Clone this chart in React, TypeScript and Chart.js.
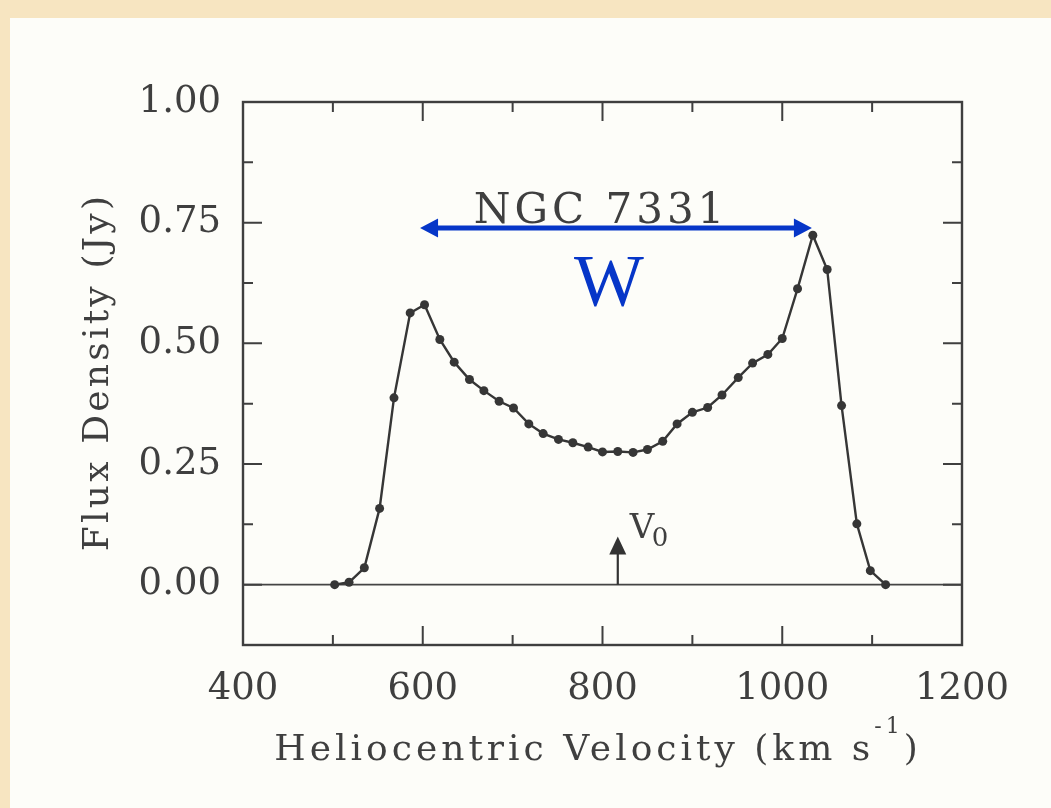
import { useEffect, useRef } from "react";
import { Chart, registerables } from "chart.js";

Chart.register(...registerables);

// HI line profile of NGC 7331: channel velocities (km/s) and flux density (Jy)
const velocities = [
  502, 518, 535, 552, 568, 586, 602, 619, 635, 652,
  668, 685, 701, 718, 734, 751, 767, 784, 800, 817,
  834, 850, 867, 883, 900, 917, 933, 951, 967, 984,
  1000, 1017, 1034, 1050, 1066, 1083, 1098, 1115,
];
const fluxDensity = [
  0.0, 0.005, 0.035, 0.158, 0.387, 0.563, 0.58, 0.508, 0.461, 0.425,
  0.402, 0.38, 0.366, 0.333, 0.313, 0.301, 0.294, 0.285, 0.275, 0.276,
  0.274, 0.28, 0.297, 0.333, 0.357, 0.367, 0.393, 0.429, 0.459, 0.477,
  0.51, 0.613, 0.724, 0.653, 0.371, 0.126, 0.029, 0.0,
];

// Axis ticks
const xMajorTicks = [400, 600, 800, 1000, 1200];
const xMinorTicks = [500, 700, 900, 1100];
const yMajorTicks = [0, 0.25, 0.5, 0.75, 1.0];
const yMinorTicks = [0.125, 0.375, 0.625, 0.875];
const xRange = [400, 1200];
const yRange = [-0.125, 1.0];

// Line width W between the two horns, and the systemic velocity marker
const widthArrowVelocities = [597, 1033];
const widthArrowLevel = [0.739];
const systemicVelocity = [817];
const systemicArrowTip = [0.1];

const titleText = "NGC 7331";
const widthLabel = "W";
const xTitle = "Heliocentric Velocity (km s";
const xTitleSup = "-1";
const yTitle = "Flux Density (Jy)";

const FONT = "'DejaVu Serif', serif";
const INK = "#3f3f3f";
const BLUE = "#0636c8";

function drawDecor(chart: any) {
  const ctx: CanvasRenderingContext2D = chart.ctx;
  const xs = chart.scales.x;
  const ys = chart.scales.y;
  const { left, right, top, bottom } = chart.chartArea;

  ctx.save();
  // frame
  ctx.strokeStyle = "#3f3f3f";
  ctx.lineWidth = 2.4;
  ctx.strokeRect(left, top, right - left, bottom - top);

  // inward tick marks on all four sides
  ctx.lineWidth = 2;
  ctx.beginPath();
  const xTick = (v: number, len: number) => {
    const px = xs.getPixelForValue(v);
    ctx.moveTo(px, bottom);
    ctx.lineTo(px, bottom - len);
    ctx.moveTo(px, top);
    ctx.lineTo(px, top + len);
  };
  const yTick = (v: number, len: number) => {
    const py = ys.getPixelForValue(v);
    ctx.moveTo(left, py);
    ctx.lineTo(left + len, py);
    ctx.moveTo(right, py);
    ctx.lineTo(right - len, py);
  };
  xMajorTicks.filter((v) => v > xRange[0] && v < xRange[1]).forEach((v) => xTick(v, 19));
  xMinorTicks.forEach((v) => xTick(v, 10));
  yMajorTicks.filter((v) => v > yRange[0] && v < yRange[1]).forEach((v) => yTick(v, 19));
  yMinorTicks.forEach((v) => yTick(v, 10));
  ctx.stroke();

  // W double arrow
  const ax1 = xs.getPixelForValue(widthArrowVelocities[0]);
  const ax2 = xs.getPixelForValue(widthArrowVelocities[1]);
  const ay = ys.getPixelForValue(widthArrowLevel[0]);
  const head = 18;
  const half = 9.5;
  ctx.strokeStyle = BLUE;
  ctx.fillStyle = BLUE;
  ctx.lineWidth = 5;
  ctx.beginPath();
  ctx.moveTo(ax1 + head - 2, ay);
  ctx.lineTo(ax2 - head + 2, ay);
  ctx.stroke();
  ctx.beginPath();
  ctx.moveTo(ax1, ay);
  ctx.lineTo(ax1 + head, ay - half);
  ctx.lineTo(ax1 + head, ay + half);
  ctx.closePath();
  ctx.moveTo(ax2, ay);
  ctx.lineTo(ax2 - head, ay - half);
  ctx.lineTo(ax2 - head, ay + half);
  ctx.closePath();
  ctx.fill();

  // W label
  ctx.font = `74px 'Liberation Serif', serif`;
  ctx.textAlign = "center";
  ctx.textBaseline = "alphabetic";
  ctx.fillText(widthLabel, 609, 306);

  // systemic velocity arrow
  const vx = xs.getPixelForValue(systemicVelocity[0]);
  const vy0 = ys.getPixelForValue(0);
  const vyTip = ys.getPixelForValue(systemicArrowTip[0]);
  ctx.strokeStyle = "#333";
  ctx.fillStyle = "#333";
  ctx.lineWidth = 2.2;
  ctx.beginPath();
  ctx.moveTo(vx, vy0);
  ctx.lineTo(vx, vyTip + 14);
  ctx.stroke();
  ctx.beginPath();
  ctx.moveTo(vx, vyTip);
  ctx.lineTo(vx - 8.5, vyTip + 18);
  ctx.lineTo(vx + 8.5, vyTip + 18);
  ctx.closePath();
  ctx.fill();

  ctx.fillStyle = INK;
  ctx.textAlign = "left";
  ctx.font = `34px ${FONT}`;
  ctx.fillText("V", vx + 12, vyTip + 2);
  ctx.font = `26px ${FONT}`;
  ctx.fillText("0", vx + 34, vyTip + 10);

  // object name
  (ctx as any).letterSpacing = "4px";
  ctx.font = `42px ${FONT}`;
  ctx.textAlign = "center";
  ctx.fillText(titleText, 601, 223);

  // x axis title with superscript
  (ctx as any).letterSpacing = "4px";
  ctx.font = `36px ${FONT}`;
  const mainW = ctx.measureText(xTitle).width;
  ctx.font = `22px ${FONT}`;
  const supW = ctx.measureText(xTitleSup).width;
  ctx.font = `36px ${FONT}`;
  const closeW = ctx.measureText(")").width;
  const total = mainW + supW + closeW;
  let tx = 598 - total / 2;
  ctx.textAlign = "left";
  ctx.fillText(xTitle, tx, 760);
  tx += mainW;
  ctx.font = `22px ${FONT}`;
  ctx.fillText(xTitleSup, tx, 733);
  tx += supW;
  ctx.font = `36px ${FONT}`;
  ctx.fillText(")", tx, 760);

  // y axis title
  (ctx as any).letterSpacing = "3.2px";
  ctx.translate(108, 372);
  ctx.rotate(-Math.PI / 2);
  ctx.textAlign = "center";
  ctx.fillText(yTitle, 0, 0);
  ctx.restore();
}

const decorPlugin = {
  id: "profileDecor",
  beforeDraw(chart: any) {
    const ctx: CanvasRenderingContext2D = chart.ctx;
    const w = chart.width;
    const h = chart.height;
    ctx.save();
    ctx.fillStyle = "#f7e5c1";
    ctx.fillRect(0, 0, w, h);
    ctx.fillStyle = "#fdfdf9";
    ctx.fillRect(10, 18, w - 10, h - 18);
    ctx.restore();
  },
  beforeDatasetsDraw(chart: any) {
    const ctx: CanvasRenderingContext2D = chart.ctx;
    const { left, right } = chart.chartArea;
    const y0 = chart.scales.y.getPixelForValue(0);
    ctx.save();
    ctx.strokeStyle = "#444";
    ctx.lineWidth = 1.8;
    ctx.beginPath();
    ctx.moveTo(left, y0);
    ctx.lineTo(right, y0);
    ctx.stroke();
    ctx.restore();
  },
  afterDatasetsDraw(chart: any) {
    drawDecor(chart);
  },
};

export default function App() {
  const canvasRef = useRef<HTMLCanvasElement | null>(null);

  useEffect(() => {
    const canvas = canvasRef.current;
    if (!canvas) return;
    const points = velocities.map((v, i) => ({ x: v, y: fluxDensity[i] }));
    const chart = new Chart(canvas, {
      type: "line",
      data: {
        datasets: [
          {
            data: points,
            borderColor: "#363636",
            borderWidth: 2.4,
            pointRadius: 4.5,
            pointBackgroundColor: "#363636",
            pointBorderWidth: 0,
            tension: 0,
          },
        ],
      },
      options: {
        responsive: false,
        animation: false,
        devicePixelRatio: 1,
        layout: { padding: { top: 102, right: 89, left: 0, bottom: 0 } },
        plugins: {
          legend: { display: false },
          tooltip: { enabled: false },
        },
        scales: {
          x: {
            type: "linear",
            min: xRange[0],
            max: xRange[1],
            grid: { display: false },
            border: { display: false },
            afterBuildTicks: (scale: any) => {
              scale.ticks = xMajorTicks.map((v) => ({ value: v }));
            },
            afterFit: (scale: any) => {
              scale.height = 163;
            },
            ticks: {
              font: { family: FONT, size: 37 },
              color: INK,
              padding: 14,
              maxRotation: 0,
              callback: (v: any) => String(v),
            },
          },
          y: {
            type: "linear",
            min: yRange[0],
            max: yRange[1],
            grid: { display: false },
            border: { display: false },
            afterBuildTicks: (scale: any) => {
              scale.ticks = yMajorTicks.map((v) => ({ value: v }));
            },
            afterFit: (scale: any) => {
              scale.width = 243;
            },
            ticks: {
              font: { family: FONT, size: 37 },
              color: INK,
              padding: 14,
              callback: (v: any) => Number(v).toFixed(2),
            },
          },
        },
      },
      plugins: [decorPlugin],
    } as any);
    return () => chart.destroy();
  }, []);

  return (
    <div style={{ position: "absolute", left: 0, top: 0, width: 1051, height: 808 }}>
      <canvas ref={canvasRef} width={1051} height={808} style={{ display: "block" }} />
    </div>
  );
}
